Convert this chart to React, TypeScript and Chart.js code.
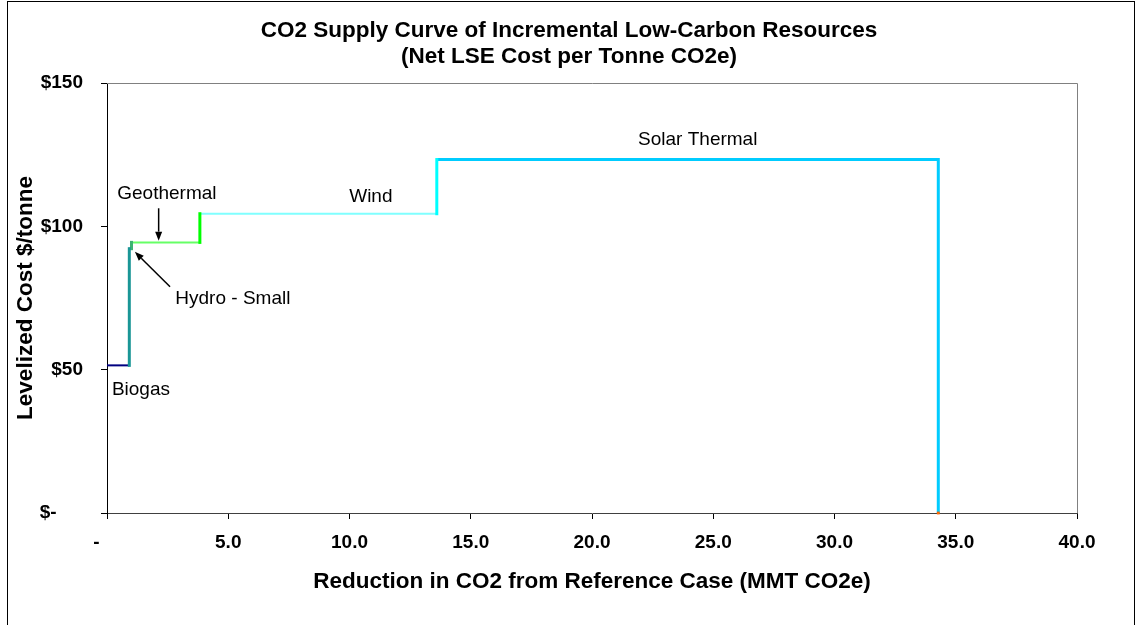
import React, { useEffect, useRef } from 'react';
import { Chart, registerables } from 'chart.js';

Chart.register(...registerables);

// ---- Data ----
const resources = ['Biogas', 'Hydro - Small', 'Geothermal', 'Wind', 'Solar Thermal'];
const reductionStart = [0, 0.92, 1.01, 3.83, 13.6];
const reductionEnd = [0.92, 1.01, 3.83, 13.6, 34.28];
const costPerTonne = [51.5, 92.2, 94.4, 104.4, 123.3];

const stepColors = ['#000080', '#1A9696', '#66FF66', '#80FFFF', '#00CCFF'];
const riseColors = ['#1A9696', '#3CB371', '#00FF00', '#00FFFF', '#00CCFF'];

const xTickLabels = ['-    ', '5.0', '10.0', '15.0', '20.0', '25.0', '30.0', '35.0', '40.0'];
const yTickLabels = ['$-     ', '$50', '$100', '$150'];

const labelTexts = ['Biogas', 'Hydro - Small', 'Geothermal', 'Wind', 'Solar Thermal'];
const labelX = [1.4, 5.19, 2.47, 10.88, 24.36];
const labelY = [42.9, 74.7, 111.3, 110.3, 130.1];

const arrowFromX = [2.13, 2.6];
const arrowFromY = [106.3, 78.9];
const arrowToX = [2.13, 1.15];
const arrowToY = [95.0, 91.1];

const endMarkerX = [34.28];
const endMarkerY = [0];

const FONT = "'Liberation Sans', Arial, Helvetica, sans-serif";

const annotationPlugin = {
  id: 'annotations',
  afterDatasetsDraw(chart: any) {
    const { ctx, scales } = chart;
    const xs = scales.x;
    const ys = scales.y;
    ctx.save();
    ctx.fillStyle = '#000';
    ctx.font = `19px ${FONT}`;
    ctx.textAlign = 'center';
    ctx.textBaseline = 'middle';
    labelTexts.forEach((t, i) => {
      ctx.fillText(t, xs.getPixelForValue(labelX[i]), ys.getPixelForValue(labelY[i]));
    });
    ctx.strokeStyle = '#000';
    ctx.lineWidth = 1.5;
    arrowFromX.forEach((_, i) => {
      const x1 = xs.getPixelForValue(arrowFromX[i]);
      const y1 = ys.getPixelForValue(arrowFromY[i]);
      const x2 = xs.getPixelForValue(arrowToX[i]);
      const y2 = ys.getPixelForValue(arrowToY[i]);
      const ang = Math.atan2(y2 - y1, x2 - x1);
      const len = 9;
      const hw = 3.5;
      const bx = x2 - len * Math.cos(ang);
      const by = y2 - len * Math.sin(ang);
      ctx.beginPath();
      ctx.moveTo(x1, y1);
      ctx.lineTo(bx, by);
      ctx.stroke();
      ctx.beginPath();
      ctx.moveTo(x2, y2);
      ctx.lineTo(bx + hw * Math.sin(ang), by - hw * Math.cos(ang));
      ctx.lineTo(bx - hw * Math.sin(ang), by + hw * Math.cos(ang));
      ctx.closePath();
      ctx.fill();
    });
    ctx.restore();
  },
  afterDraw(chart: any) {
    const { ctx, chartArea } = chart;
    ctx.save();
    ctx.strokeStyle = '#808080';
    ctx.lineWidth = 1;
    ctx.beginPath();
    ctx.moveTo(chartArea.left, chartArea.top + 0.5);
    ctx.lineTo(chartArea.right + 0.5, chartArea.top + 0.5);
    ctx.lineTo(chartArea.right + 0.5, chartArea.bottom);
    ctx.stroke();
    ctx.restore();
  },
};

export default function App() {
  const canvasRef = useRef<HTMLCanvasElement | null>(null);

  useEffect(() => {
    if (!canvasRef.current) return;

    const riseSets = resources.map((name, i) => ({
      label: name + ' rise',
      data: [
        { x: reductionEnd[i], y: costPerTonne[i] },
        { x: reductionEnd[i], y: i + 1 < costPerTonne.length ? costPerTonne[i + 1] : 0 },
      ],
      borderColor: riseColors[i],
      borderWidth: 3,
      pointRadius: 0,
      borderCapStyle: 'square' as const,
    }));
    const stepSets = resources.map((name, i) => ({
      label: name,
      data: [
        { x: reductionStart[i], y: costPerTonne[i] },
        { x: reductionEnd[i], y: costPerTonne[i] },
      ],
      borderColor: stepColors[i],
      borderWidth: i === resources.length - 1 ? 3 : 2,
      pointRadius: 0,
      borderCapStyle: 'butt' as const,
    }));
    const markerSet = {
      label: 'end',
      data: endMarkerX.map((x, i) => ({ x, y: endMarkerY[i] })),
      showLine: false,
      pointStyle: 'rect' as const,
      pointRadius: 2,
      pointBackgroundColor: '#FF6600',
      pointBorderColor: '#FF6600',
      borderWidth: 0,
      clip: 4,
    };

    const chart = new Chart(canvasRef.current, {
      type: 'line',
      data: { datasets: [markerSet, ...riseSets, ...stepSets] as any },
      plugins: [annotationPlugin],
      options: {
        animation: false,
        responsive: false,
        devicePixelRatio: 1,
        layout: { padding: { left: 0, right: 0, top: 0, bottom: 0 } },
        elements: { line: { tension: 0 } },
        plugins: {
          legend: { display: false },
          tooltip: { enabled: false },
          title: {
            display: true,
            text: ['CO2 Supply Curve of Incremental Low-Carbon Resources', '(Net LSE Cost per Tonne CO2e)'],
            color: '#000',
            font: { family: FONT, size: 22.5, weight: 'bold', lineHeight: 26 / 22.5 },
            padding: { top: 18, bottom: 13 },
          },
        },
        scales: {
          x: {
            type: 'linear',
            min: 0,
            max: 40,
            afterFit: (s: any) => { s.height = 112; },
            ticks: {
              stepSize: 5,
              color: '#000',
              padding: 12,
              maxRotation: 0,
              autoSkip: false,
              font: { family: FONT, size: 19, weight: 'bold' },
              callback: (_v: any, i: number) => xTickLabels[i],
            },
            grid: { display: true, drawOnChartArea: false, drawTicks: true, tickLength: 6, color: '#000' },
            border: { display: true, color: '#404040', width: 1 },
            title: {
              display: true,
              text: 'Reduction in CO2 from Reference Case (MMT CO2e)',
              color: '#000',
              font: { family: FONT, size: 22.5, weight: 'bold' },
              padding: { top: 0, bottom: 30 },
            },
          },
          y: {
            type: 'linear',
            min: 0,
            max: 150,
            afterFit: (s: any) => { s.width = 107; },
            ticks: {
              stepSize: 50,
              color: '#000',
              padding: 18,
              font: { family: FONT, size: 19, weight: 'bold' },
              callback: (_v: any, i: number) => yTickLabels[i],
            },
            grid: { display: true, drawOnChartArea: false, drawTicks: true, tickLength: 6, color: '#000' },
            border: { display: true, color: '#000', width: 1 },
            title: {
              display: true,
              text: 'Levelized Cost $/tonne',
              color: '#000',
              font: { family: FONT, size: 22.5, weight: 'bold' },
              padding: { top: 12, bottom: 0 },
            },
          },
          yRightSpace: {
            type: 'linear',
            position: 'right',
            display: true,
            min: 0,
            max: 150,
            afterFit: (s: any) => { s.width = 61; },
            ticks: { display: false },
            grid: { display: false, drawTicks: false },
            border: { display: false },
          },
        },
      } as any,
    });

    return () => chart.destroy();
  }, []);

  return (
    <div style={{ position: 'fixed', left: 0, top: 0, width: 1138, height: 625, overflow: 'hidden', background: '#fff' }}>
      <div
        style={{
          position: 'absolute',
          left: 7,
          top: 1,
          width: 1128,
          height: 700,
          border: '1px solid #000',
          boxSizing: 'border-box',
        }}
      />
      <canvas ref={canvasRef} width={1138} height={625} style={{ position: 'absolute', left: 0, top: 0 }} />
    </div>
  );
}
